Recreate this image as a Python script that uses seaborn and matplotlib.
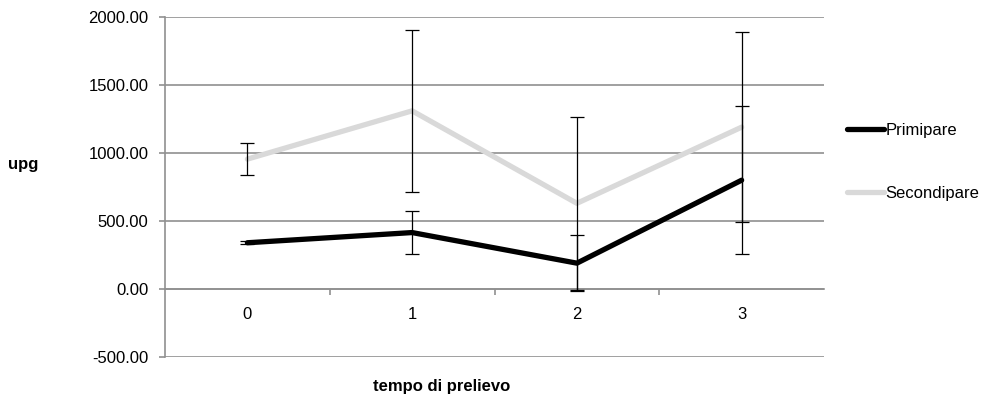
import numpy as np
import pandas as pd
import matplotlib
matplotlib.use("Agg")
import matplotlib.pyplot as plt
import seaborn as sns
from matplotlib.ticker import StrMethodFormatter, FixedLocator

# ── Data ──────────────────────────────────────────
tempo = [0, 1, 2, 3]
primipare = [340, 415, 190, 800]
primipare_err = [12, 155, 205, 545]
secondipare = [955, 1310, 630, 1190]
secondipare_err = [115, 595, 635, 700]

df = pd.DataFrame({
    "tempo": tempo * 2,
    "upg": primipare + secondipare,
    "gruppo": ["Primipare"] * 4 + ["Secondipare"] * 4,
})

sns.set_style("white")
plt.rcParams["font.family"] = ["Liberation Sans", "DejaVu Sans"]
plt.rcParams["axes.unicode_minus"] = False
plt.rcParams["text.color"] = "black"

grid_col = "#909090"
fs = 12

fig = plt.figure(figsize=(9.84, 3.95), dpi=100)
ax = fig.add_axes([165 / 984, 38 / 395, (824 - 165) / 984, (357 - 17) / 395])

sns.lineplot(data=df, x="tempo", y="upg", hue="gruppo",
             palette={"Primipare": "#000000", "Secondipare": "#d9d9d9"},
             linewidth=3.8, ax=ax, zorder=2)

# error bars on top
ax.errorbar(tempo, primipare, yerr=primipare_err, fmt="none",
            ecolor="black", elinewidth=0.9, capsize=5, capthick=0.9, zorder=3)
ax.errorbar(tempo, secondipare, yerr=secondipare_err, fmt="none",
            ecolor="black", elinewidth=0.9, capsize=5, capthick=0.9, zorder=3)

handles, labels = ax.get_legend_handles_labels()
ax.get_legend().remove()
fig.legend(handles, labels, loc="center left",
           bbox_to_anchor=(847 / 984, 1 - 162 / 395),
           frameon=False, borderpad=0, borderaxespad=0,
           handlelength=2.2, handletextpad=0.1, labelspacing=2.9,
           fontsize=fs, labelcolor="black")

# axes styling
ax.set_xlim(-0.5, 3.5)
ax.set_ylim(-500, 2000)
ax.set_yticks([-500, 0, 500, 1000, 1500, 2000])
ax.yaxis.set_major_formatter(StrMethodFormatter("{x:.2f}"))
ax.grid(axis="y", color=grid_col, linewidth=1.2)
ax.set_axisbelow(True)

for s in ["top", "right"]:
    ax.spines[s].set_visible(False)
ax.spines["left"].set_color(grid_col)
ax.spines["left"].set_linewidth(1.2)
ax.spines["bottom"].set_position(("data", 0))
ax.spines["bottom"].set_color(grid_col)
ax.spines["bottom"].set_linewidth(1.2)

ax.set_xticks(tempo)
ax.set_xticklabels([str(t) for t in tempo])
ax.xaxis.set_minor_locator(FixedLocator([0.5, 1.5, 2.5]))
ax.tick_params(axis="x", which="major", length=0, pad=13, labelsize=fs,
               labelcolor="black")
ax.tick_params(axis="x", which="minor", length=4, width=1.2,
               color=grid_col, direction="out", bottom=True)
ax.tick_params(axis="y", which="major", length=4, width=1.2,
               color=grid_col, direction="out", left=True, pad=8,
               labelsize=fs, labelcolor="black")

ax.set_xlabel("")
ax.set_ylabel("")
fig.text(23 / 984, 1 - 164 / 395, "upg", fontsize=fs, fontweight="bold",
         ha="center", va="center", color="black")
fig.text(442 / 984, 1 - 386 / 395, "tempo di prelievo", fontsize=fs,
         fontweight="bold", ha="center", va="center", color="black")

fig.savefig("out.png", dpi=100)
